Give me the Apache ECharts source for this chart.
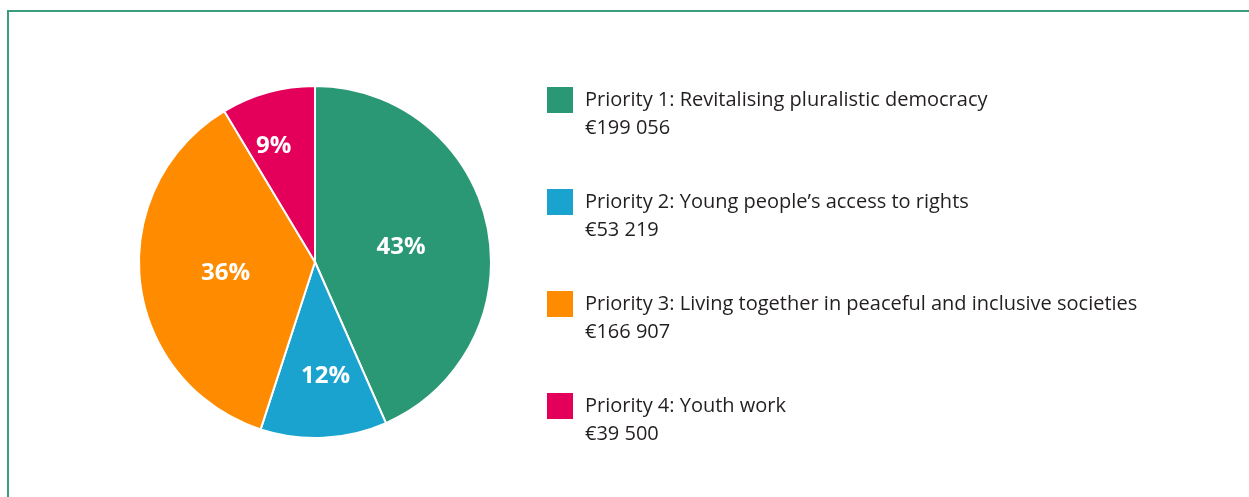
<!DOCTYPE html>
<html>
<head>
<meta charset="utf-8">
<script src="https://cdn.jsdelivr.net/npm/echarts@6/dist/echarts.min.js"></script>
<style>
  html, body { margin: 0; padding: 0; background: #fff; overflow: hidden; }
  #main { position: absolute; left: 0; top: 0; width: 1249px; height: 497px; }
  .frame {
    position: absolute; left: 7px; top: 10px; width: 1400px; height: 700px;
    border: 2px solid #3a9e7c; box-sizing: border-box; pointer-events: none;
  }
</style>
</head>
<body>
<div id="main"></div>
<div class="frame"></div>
<script>
// priorities and amounts (EUR)
const names = [
  'Priority 1: Revitalising pluralistic democracy',
  'Priority 2: Young people\u2019s access to rights',
  'Priority 3: Living together in peaceful and inclusive societies',
  'Priority 4: Youth work'
]
const amountLabels = ['\u20ac199 056', '\u20ac53 219', '\u20ac166 907', '\u20ac39 500']
const amounts = [199056, 53219, 166907, 39500]
const colors = ['#2b9875', '#1ba3cf', '#ff8c00', '#e4005a']

// label nudges, the original labels are placed by hand
const labelNudge = [[-3, 4], [6, 23], [1, 1], [-17, -28]]

const chart = echarts.init(document.getElementById('main'))

const option = {
  backgroundColor: '#fff',
  animation: false,
  color: colors,
  legend: {
    orient: 'vertical',
    left: 545,
    top: 58,
    padding: 0,
    itemGap: 18,
    itemWidth: 28,
    itemHeight: 28,
    icon: 'rect',
    selectedMode: false,
    data: names,
    // empty first line keeps the name level with the square
    formatter(name) {
      const i = names.indexOf(name)
      return '\n' + name + '\n' + amountLabels[i]
    },
    textStyle: {
      color: '#231f20',
      fontFamily: 'Open Sans',
      fontSize: 20,
      lineHeight: 28,
      padding: [0, 0, 0, 6]
    }
  },
  series: [
    {
      type: 'pie',
      center: [315, 262],
      radius: 176,
      startAngle: 90,
      clockwise: true,
      percentPrecision: 0,
      itemStyle: {
        borderColor: '#fff',
        borderWidth: 2
      },
      label: {
        position: 'inside',
        formatter: '{d}%',
        color: '#fff',
        fontFamily: 'Open Sans',
        fontWeight: 'bold',
        fontSize: 24
      },
      labelLine: { show: false },
      emphasis: { disabled: true },
      data: names.map((n, i) => ({
        name: n,
        value: amounts[i],
        label: { offset: labelNudge[i] }
      }))
    }
  ]
}

chart.setOption(option)
</script>
</body>
</html>
